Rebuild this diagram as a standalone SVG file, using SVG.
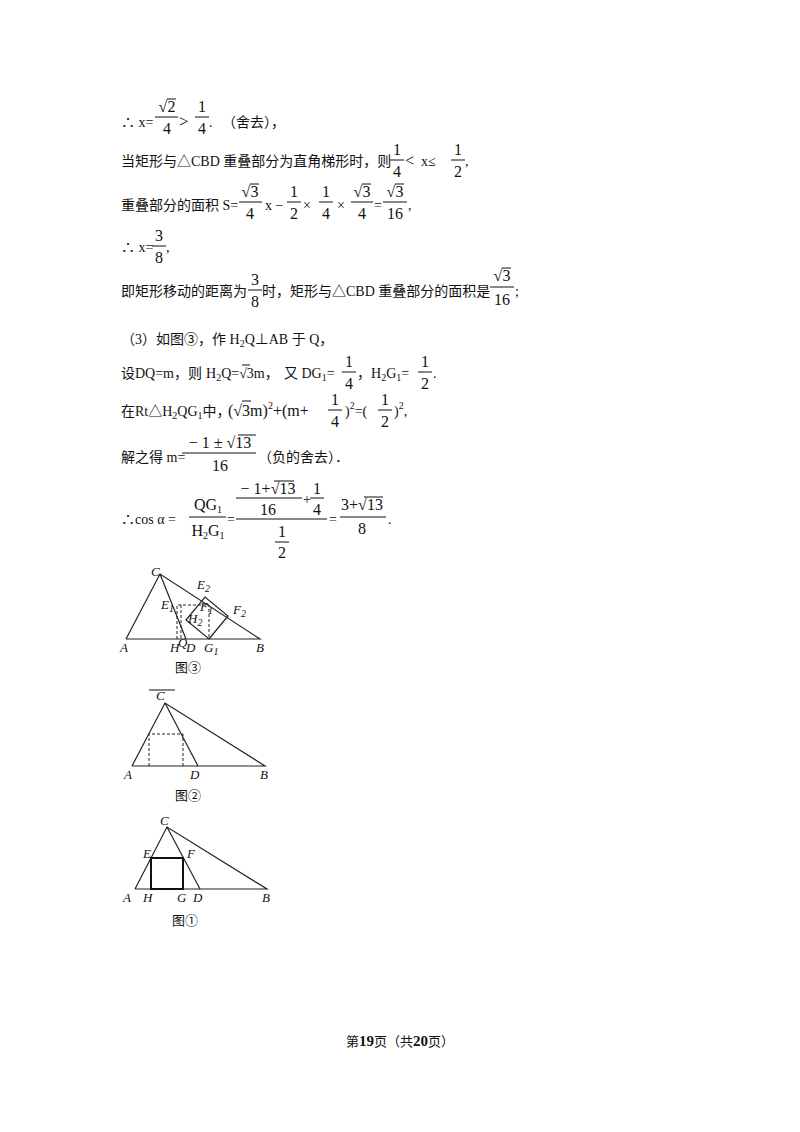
<svg xmlns="http://www.w3.org/2000/svg" width="800" height="1132" viewBox="0 0 800 1132">
<style>
text{font-family:"Liberation Serif","Noto Sans CJK SC",serif;font-size:14px;fill:#111}
.f{font-size:16px;text-anchor:middle}
.c{text-anchor:middle}
.s{font-size:10px}
.fl{stroke:#111;stroke-width:1}
.g{stroke:#222;stroke-width:1.2;fill:none}
.d{stroke:#222;stroke-width:1;fill:none;stroke-dasharray:3,2}
.lb{font-family:"Liberation Serif",serif;font-style:italic;font-size:13px}
</style>
<rect width="800" height="1132" fill="#fff"/>
<!-- row1 -->
<text x="121" y="127">∴ x=</text>
<text class="f" x="167" y="112">√2</text><line class="fl" x1="167" y1="99" x2="176" y2="99"/>
<line class="fl" x1="155" y1="117" x2="178" y2="117"/><text class="f" x="167" y="134">4</text>
<text x="179" y="127" style="font-size:17px">&gt;</text>
<text class="f" x="202" y="112">1</text><line class="fl" x1="195" y1="117" x2="209" y2="117"/><text class="f" x="202" y="134">4</text>
<text x="209" y="127">.</text>
<text x="222" y="127">（舍去），</text>
<!-- row2 -->
<text x="121" y="166">当矩形与△CBD 重叠部分为直角梯形时，则</text>
<text class="f" x="397" y="155">1</text><line class="fl" x1="390" y1="160" x2="404" y2="160"/><text class="f" x="397" y="177">4</text>
<text x="405" y="166" style="font-size:16px">&lt;</text>
<text x="421" y="166">x≤</text>
<text class="f" x="458" y="155">1</text><line class="fl" x1="451" y1="160" x2="465" y2="160"/><text class="f" x="458" y="177">2</text>
<text x="465" y="166">,</text>
<!-- row3 -->
<text x="121" y="210">重叠部分的面积 S=</text>
<text class="f" x="250" y="197">√3</text><line class="fl" x1="250" y1="184" x2="259" y2="184"/>
<line class="fl" x1="239" y1="202" x2="262" y2="202"/><text class="f" x="250" y="219">4</text>
<text x="265" y="210">x −</text>
<text class="f" x="294" y="197">1</text><line class="fl" x1="287" y1="202" x2="301" y2="202"/><text class="f" x="294" y="219">2</text>
<text x="303" y="210">×</text>
<text class="f" x="326" y="197">1</text><line class="fl" x1="319" y1="202" x2="333" y2="202"/><text class="f" x="326" y="219">4</text>
<text x="337" y="210">×</text>
<text class="f" x="362" y="197">√3</text><line class="fl" x1="362" y1="184" x2="371" y2="184"/>
<line class="fl" x1="351" y1="202" x2="373" y2="202"/><text class="f" x="362" y="219">4</text>
<text x="374" y="210">=</text>
<text class="f" x="395" y="197">√3</text><line class="fl" x1="395" y1="184" x2="404" y2="184"/>
<line class="fl" x1="383" y1="202" x2="407" y2="202"/><text class="f" x="395" y="219">16</text>
<text x="408" y="210">,</text>
<!-- row4 -->
<text x="121" y="252">∴ x=</text>
<text class="f" x="159" y="241">3</text><line class="fl" x1="152" y1="246" x2="166" y2="246"/><text class="f" x="159" y="263">8</text>
<text x="166" y="252">,</text>
<!-- row5 -->
<text x="121" y="296">即矩形移动的距离为</text>
<text class="f" x="255" y="285">3</text><line class="fl" x1="248" y1="290" x2="262" y2="290"/><text class="f" x="255" y="307">8</text>
<text x="262" y="296">时，矩形与△CBD 重叠部分的面积是</text>
<text class="f" x="502" y="281">√3</text><line class="fl" x1="502" y1="268" x2="511" y2="268"/>
<line class="fl" x1="490" y1="287" x2="514" y2="287"/><text class="f" x="502" y="305">16</text>
<text x="515" y="296">;</text>
<!-- row6 -->
<text x="121" y="344">（3）如图③，作 H<tspan class="s" dy="3">2</tspan><tspan dy="-3">Q⊥AB 于 Q，</tspan></text>
<!-- row7 -->
<text x="121" y="378">设DQ=m，则</text>
<text x="206" y="378">H<tspan class="s" dy="3">2</tspan><tspan dy="-3">Q=√3m，</tspan></text>
<line class="fl" x1="242" y1="365" x2="250" y2="365"/>
<text x="284" y="378">又 DG<tspan class="s" dy="3">1</tspan><tspan dy="-3">=</tspan></text>
<text class="f" x="349" y="367">1</text><line class="fl" x1="342" y1="372" x2="356" y2="372"/><text class="f" x="349" y="389">4</text>
<text x="357" y="378">，H<tspan class="s" dy="3">2</tspan><tspan dy="-3">G</tspan><tspan class="s" dy="3">1</tspan><tspan dy="-3">=</tspan></text>
<text class="f" x="425" y="367">1</text><line class="fl" x1="418" y1="372" x2="432" y2="372"/><text class="f" x="425" y="389">2</text>
<text x="433" y="378">.</text>
<!-- row8 -->
<text x="121" y="416">在Rt△H<tspan class="s" dy="3">2</tspan><tspan dy="-3">QG</tspan><tspan class="s" dy="3">1</tspan><tspan dy="-3">中，</tspan></text>
<text x="228" y="416" style="font-size:16px">(√3m)<tspan class="s" dy="-7">2</tspan><tspan dy="7">+(m+</tspan></text>
<line class="fl" x1="242" y1="401" x2="251" y2="401"/>
<text class="f" x="335" y="405">1</text><line class="fl" x1="328" y1="410" x2="342" y2="410"/><text class="f" x="335" y="427">4</text>
<text x="345" y="416">)<tspan class="s" dy="-7">2</tspan><tspan dy="7">=(</tspan></text>
<text class="f" x="385" y="405">1</text><line class="fl" x1="378" y1="410" x2="392" y2="410"/><text class="f" x="385" y="427">2</text>
<text x="394" y="416">)<tspan class="s" dy="-7">2</tspan><tspan dy="7">,</tspan></text>
<!-- row9 -->
<text x="121" y="462">解之得 m=</text>
<text class="f" x="220" y="448">− 1 ± √13</text><line class="fl" x1="238" y1="435" x2="256" y2="435"/>
<line class="fl" x1="182" y1="453" x2="256" y2="453"/><text class="f" x="220" y="471">16</text>
<text x="258" y="462">（负的舍去）．</text>
<!-- row10 -->
<text x="121" y="524">∴cos α =</text>
<text class="f" x="208" y="510">QG<tspan class="s" dy="3">1</tspan></text>
<line class="fl" x1="189" y1="517" x2="226" y2="517"/>
<text class="f" x="208" y="536">H<tspan class="s" dy="3">2</tspan><tspan dy="-3">G</tspan><tspan class="s" dy="3">1</tspan></text>
<text x="227" y="524">=</text>
<text class="f" x="268" y="494">− 1+√13</text><line class="fl" x1="274" y1="481" x2="294" y2="481"/>
<line class="fl" x1="236" y1="498" x2="302" y2="498"/><text class="f" x="268" y="515">16</text>
<text x="303" y="504">+</text>
<text class="f" x="317" y="494">1</text><line class="fl" x1="310" y1="498" x2="324" y2="498"/><text class="f" x="317" y="515">4</text>
<line class="fl" x1="236" y1="519" x2="327" y2="519"/>
<text class="f" x="282" y="537">1</text><line class="fl" x1="275" y1="542" x2="289" y2="542"/><text class="f" x="282" y="558">2</text>
<text x="329" y="524">=</text>
<text class="f" x="362" y="510">3+√13</text><line class="fl" x1="364" y1="497" x2="383" y2="497"/>
<line class="fl" x1="340" y1="517" x2="386" y2="517"/><text class="f" x="362" y="534">8</text>
<text x="388" y="524">.</text>

<!-- Figure 3 -->
<g id="fig3">
<polyline class="g" points="126,639 160,574 260,639 126,639"/>
<line class="g" x1="160" y1="574" x2="186" y2="639"/>
<polygon class="g" points="209,639 228,616 205,597 186,620"/>
<polyline class="d" points="177,639 177,605 209,605 209,639"/>
<line class="d" x1="181" y1="605" x2="181" y2="639"/>
<text class="lb" x="151" y="576">C</text>
<text class="lb" x="197" y="589">E<tspan class="s" dy="3">2</tspan></text>
<text class="lb" x="161" y="609">E<tspan class="s" dy="3">1</tspan></text>
<text class="lb" x="200" y="611">F<tspan class="s" dy="3">1</tspan></text>
<text class="lb" x="188" y="623">H<tspan class="s" dy="3">2</tspan></text>
<text class="lb" x="233" y="614">F<tspan class="s" dy="3">2</tspan></text>
<text class="lb" x="120" y="652">A</text>
<text class="lb" x="170" y="652">H</text>
<text class="lb" x="178" y="647">Q</text>
<text class="lb" x="186" y="652">D</text>
<text class="lb" x="204" y="652">G<tspan class="s" dy="3">1</tspan></text>
<text class="lb" x="256" y="652">B</text>
<text x="175" y="672" style="font-size:13px">图③</text>
</g>
<!-- Figure 2 -->
<g id="fig2">
<line class="fl" x1="149" y1="690" x2="175" y2="690"/>
<polyline class="g" points="132,766 165,703 265,766 132,766"/>
<line class="g" x1="165" y1="703" x2="198" y2="766"/>
<polyline class="d" points="149,766 149,734 183,734 183,766"/>
<text class="lb" x="156" y="700">C</text>
<text class="lb" x="124" y="779">A</text>
<text class="lb" x="190" y="779">D</text>
<text class="lb" x="260" y="779">B</text>
<text x="175" y="800" style="font-size:13px">图②</text>
</g>
<!-- Figure 1 -->
<g id="fig1">
<polyline class="g" points="135,889 167,827 267,889 135,889"/>
<line class="g" x1="167" y1="827" x2="200" y2="889"/>
<rect x="151" y="858" width="32" height="31" fill="none" stroke="#111" stroke-width="2"/>
<text class="lb" x="160" y="825">C</text>
<text class="lb" x="143" y="858">E</text>
<text class="lb" x="187" y="858">F</text>
<text class="lb" x="123" y="902">A</text>
<text class="lb" x="143" y="902">H</text>
<text class="lb" x="177" y="902">G</text>
<text class="lb" x="193" y="902">D</text>
<text class="lb" x="262" y="902">B</text>
<text x="172" y="925" style="font-size:13px">图①</text>
</g>
<text class="c" x="400" y="1046" style="font-size:13px">第<tspan font-weight="bold" font-size="15">19</tspan>页（共<tspan font-weight="bold" font-size="15">20</tspan>页）</text>
</svg>
